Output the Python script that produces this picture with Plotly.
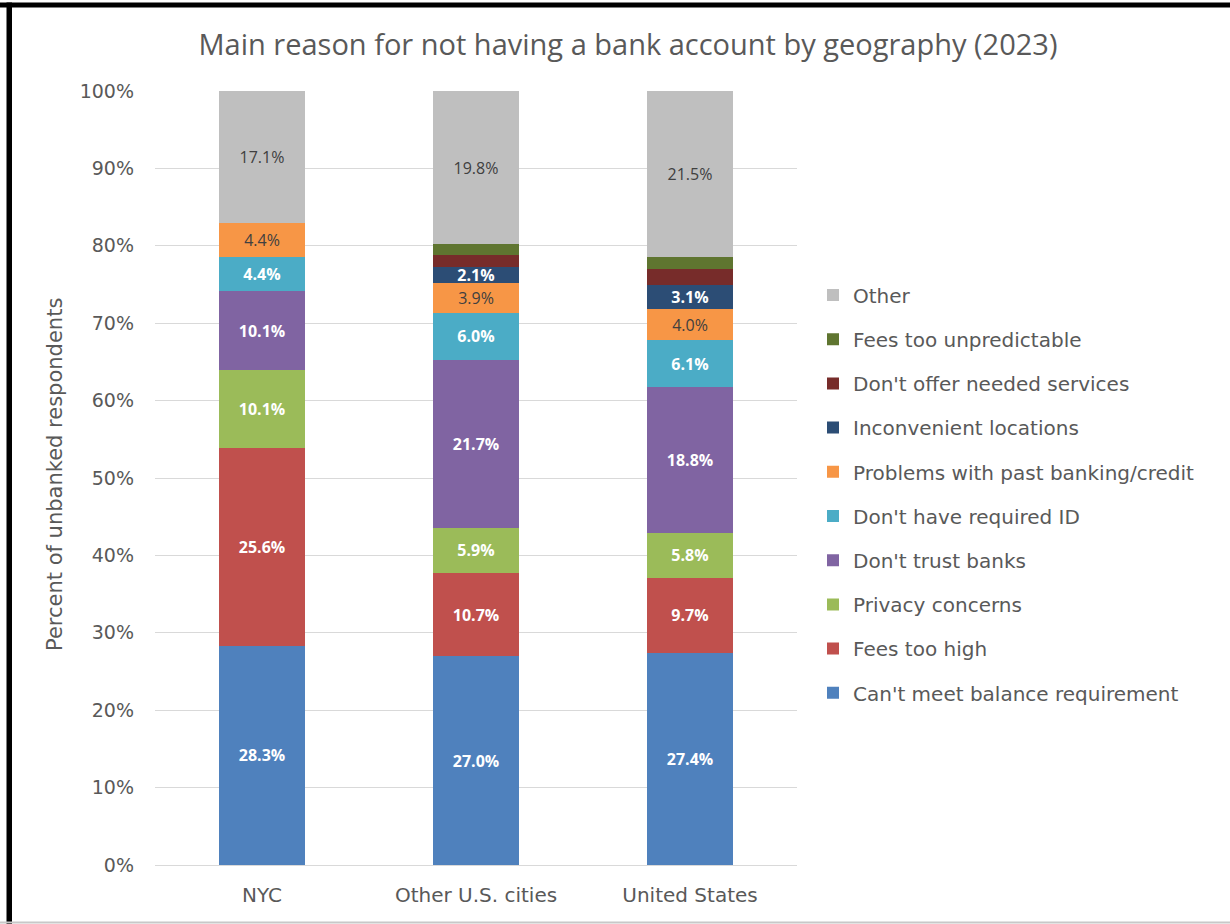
import plotly.graph_objects as go

categories = ["NYC", "Other U.S. cities", "United States"]

reasons = [
    "Can't meet balance requirement",
    "Fees too high",
    "Privacy concerns",
    "Don't trust banks",
    "Don't have required ID",
    "Problems with past banking/credit",
    "Inconvenient locations",
    "Don't offer needed services",
    "Fees too unpredictable",
    "Other",
]

cant_meet_balance = [28.3, 27.0, 27.4]
fees_too_high = [25.6, 10.7, 9.7]
privacy_concerns = [10.1, 5.9, 5.8]
dont_trust_banks = [10.1, 21.7, 18.8]
no_required_id = [4.4, 6.0, 6.1]
past_banking_problems = [4.4, 3.9, 4.0]
inconvenient_locations = [0.0, 2.1, 3.1]
dont_offer_services = [0.0, 1.5, 2.1]
fees_unpredictable = [0.0, 1.4, 1.5]
other = [17.1, 19.8, 21.5]

series_values = [
    cant_meet_balance, fees_too_high, privacy_concerns, dont_trust_banks,
    no_required_id, past_banking_problems, inconvenient_locations,
    dont_offer_services, fees_unpredictable, other,
]

colors = ["#4F81BD", "#C0504D", "#9BBB59", "#8064A2", "#4BACC6",
          "#F79646", "#2C4D75", "#772C2A", "#5F7530", "#BFBFBF"]
label_colors = ["white", "white", "white", "white", "white",
                "#404040", "white", "white", "white", "#404040"]
show_labels = [True, True, True, True, True, True, True, False, False, True]

# plot-area geometry in pixels
W, H = 1230, 924
L, R, T, B = 155, 797, 91, 865
FONT = "DejaVu Sans"

fig = go.Figure()
for i, (name, vals) in enumerate(zip(reasons, series_values)):
    txt = [(f"{v:.1f}%" if (v > 0 and show_labels[i]) else "") for v in vals]
    bold = label_colors[i] == "white"
    fig.add_trace(go.Bar(
        x=categories, y=vals, name=name,
        marker=dict(color=colors[i], line=dict(width=0)),
        text=txt, textposition="inside", insidetextanchor="middle",
        constraintext="none",
        textfont=dict(color=label_colors[i], size=16,
                      family="Open Sans", weight="bold" if bold else "normal"),
        legendgroup=name, legendrank=100 - i, hoverinfo="skip",
    ))


def px_x(p):
    return (p - L) / (R - L)


def px_y(p):
    return (B - p) / (B - T)


fig.update_layout(
    width=W, height=H,
    barmode="stack", bargap=0.6,
    plot_bgcolor="white", paper_bgcolor="white",
    margin=dict(l=L, r=W - R, t=T, b=H - B),
    title=dict(text="Main reason for not having a bank account by geography (2023)",
               x=628 / W, xanchor="center", y=1 - 45 / H, yanchor="middle",
               font=dict(family="Open Sans", size=29, color="#595959")),
    font=dict(family=FONT, color="#595959"),
    legend=dict(traceorder="grouped", tracegroupgap=15.2,
                x=px_x(813), xanchor="left",
                y=px_y(494), yanchor="middle",
                font=dict(size=20, color="#595959", family=FONT),
                bgcolor="rgba(0,0,0,0)"),
    showlegend=True,
)
fig.update_yaxes(range=[0, 100], dtick=10, ticksuffix="%",
                 showgrid=True, gridcolor="#D9D9D9", gridwidth=1,
                 zeroline=True, zerolinecolor="#D9D9D9", zerolinewidth=1,
                 showline=False, ticks="", ticklen=0, ticklabelstandoff=20,
                 tickfont=dict(size=19, color="#595959", family=FONT))
fig.update_xaxes(showline=False, ticks="", ticklabelstandoff=16,
                 tickfont=dict(size=20, color="#595959", family=FONT))

fig.add_annotation(text="Percent of unbanked respondents", textangle=-90,
                   xref="paper", yref="paper", x=px_x(55), y=px_y(475),
                   xanchor="center", yanchor="middle", showarrow=False,
                   font=dict(size=21, color="#595959", family=FONT))

# frame of the screenshot (black at top and left, gray bottom edge)
fig.add_shape(type="rect", xref="paper", yref="paper",
              x0=px_x(0), x1=px_x(W), y0=px_y(7.5), y1=px_y(2.5),
              fillcolor="black", line=dict(width=0), layer="above")
fig.add_shape(type="rect", xref="paper", yref="paper",
              x0=px_x(6.5), x1=px_x(12), y0=px_y(H), y1=px_y(2.5),
              fillcolor="black", line=dict(width=0), layer="above")
fig.add_shape(type="line", xref="paper", yref="paper",
              x0=px_x(0), x1=px_x(W), y0=px_y(922.5), y1=px_y(922.5),
              line=dict(color="#C8C8C8", width=2), layer="above")

fig.write_html("out.html", config={"displayModeBar": False},
               post_script="document.body.style.margin='0';")
